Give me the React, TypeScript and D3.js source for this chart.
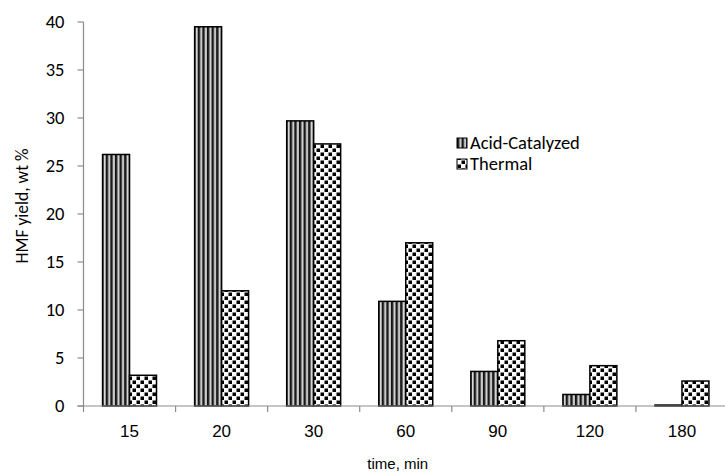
import React from "react";
import * as d3 from "d3";

const categories = ["15", "20", "30", "60", "90", "120", "180"];
const acidValues = [26.2, 39.5, 29.7, 10.9, 3.6, 1.2, 0.1];
const thermalValues = [3.2, 12.0, 27.3, 17.0, 6.8, 4.2, 2.6];
const seriesNames = ["Acid-Catalyzed", "Thermal"];
const yTicks = [0, 5, 10, 15, 20, 25, 30, 35, 40];

const W = 725;
const H = 474;
const plotLeft = 83.5;
const plotRight = 728;
const plotTop = 22;
const plotBottom = 406;

const calibri = "Carlito, Calibri, Lato, sans-serif";
const arial = "'Liberation Sans', Arial, sans-serif";

export default function App() {
  const x0 = d3.scaleBand<string>().domain(categories).range([plotLeft, plotRight]).padding(0);
  const bw = x0.bandwidth();
  const x1 = d3
    .scaleBand<string>()
    .domain(seriesNames)
    .range([bw * 0.207, bw * 0.793])
    .padding(0);
  const y = d3.scaleLinear().domain([0, 40]).range([plotBottom, plotTop]);

  const series = [
    { name: seriesNames[0], values: acidValues, fill: "url(#stripes)" },
    { name: seriesNames[1], values: thermalValues, fill: "url(#dots)" },
  ];

  const axisColor = "#8c8c8c";
  const boundaries = categories.map((c) => x0(c) as number).concat([plotRight]);

  return (
    <svg
      width={W}
      height={H}
      style={{ position: "absolute", left: 0, top: 0, display: "block", background: "#fff" }}
    >
      <defs>
        <pattern id="stripes" patternUnits="userSpaceOnUse" width={4.6} height={10}>
          <rect x={0} y={0} width={4.6} height={10} fill="#ffffff" />
          <rect x={0} y={0} width={1.8} height={10} fill="#111111" />
          <rect x={1.8} y={0} width={1.2} height={10} fill="#6a6a6a" />
          <rect x={4.0} y={0} width={0.6} height={10} fill="#9a9a9a" />
        </pattern>
        <pattern id="dots" patternUnits="userSpaceOnUse" width={8} height={8}>
          <rect x={0} y={0} width={8} height={8} fill="#ffffff" />
          <rect x={0.5} y={0.5} width={3.5} height={3.5} fill="#000" />
          <rect x={4.5} y={4.5} width={3.5} height={3.5} fill="#000" />
        </pattern>
      </defs>

      {/* bars */}
      {series.map((s) =>
        categories.map((c, i) => {
          const xx = (x0(c) as number) + (x1(s.name) as number);
          const yy = y(s.values[i]);
          return (
            <rect
              key={s.name + c}
              x={xx}
              y={yy}
              width={x1.bandwidth()}
              height={plotBottom - yy}
              fill={s.fill}
              stroke="#000"
              strokeWidth={1.5}
            />
          );
        })
      )}

      {/* y axis */}
      <line x1={plotLeft} x2={plotLeft} y1={plotTop} y2={plotBottom} stroke={axisColor} strokeWidth={1.2} />
      {yTicks.map((t) => (
        <g key={t}>
          <line x1={plotLeft - 6} x2={plotLeft} y1={y(t)} y2={y(t)} stroke={axisColor} strokeWidth={1.2} />
          <text
            x={plotLeft - 19}
            y={y(t)}
            dy="0.35em"
            textAnchor="end"
            fontFamily={calibri}
            fontSize={18.5}
            fill="#000"
          >
            {t}
          </text>
        </g>
      ))}

      {/* x axis */}
      <line x1={plotLeft - 6} x2={plotRight} y1={plotBottom} y2={plotBottom} stroke={axisColor} strokeWidth={1.2} />
      {boundaries.map((b, i) => (
        <line key={i} x1={b} x2={b} y1={plotBottom} y2={plotBottom + 6} stroke={axisColor} strokeWidth={1.2} />
      ))}
      {categories.map((c) => (
        <text
          key={c}
          x={(x0(c) as number) + bw / 2}
          y={431}
          dy="0.35em"
          textAnchor="middle"
          fontFamily={arial}
          fontSize={17}
          fill="#000"
        >
          {c}
        </text>
      ))}

      {/* axis titles */}
      <text
        x={(plotLeft + plotRight) / 2 - 8}
        y={464}
        dy="0.35em"
        textAnchor="middle"
        fontFamily={arial}
        fontSize={15}
        fill="#000"
      >
        time, min
      </text>
      <text
        transform={`translate(22, ${(plotTop + plotBottom) / 2 - 8}) rotate(-90)`}
        dy="0.35em"
        textAnchor="middle"
        fontFamily={calibri}
        fontSize={17.5}
        fill="#000"
      >
        HMF yield, wt %
      </text>

      {/* legend */}
      {series.map((s, i) => (
        <g key={s.name} transform={`translate(457, ${143 + i * 21})`}>
          <rect x={0} y={-5} width={10} height={10} fill={s.fill} stroke="#000" strokeWidth={1} />
          <text x={13} y={0} dy="0.35em" fontFamily={calibri} fontSize={18.5} fill="#000">
            {s.name}
          </text>
        </g>
      ))}
    </svg>
  );
}
